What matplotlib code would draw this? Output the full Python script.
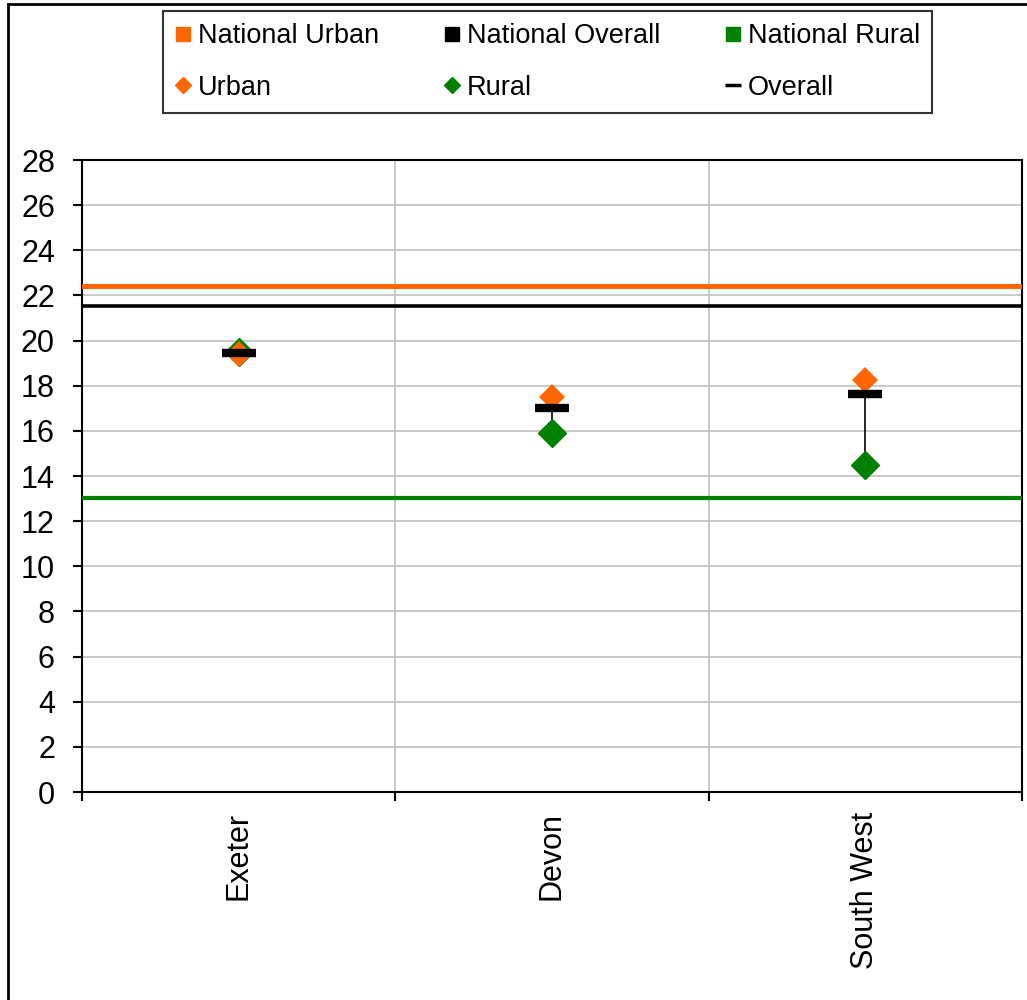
import matplotlib.pyplot as plt
from matplotlib.lines import Line2D
from matplotlib.patches import Rectangle

plt.rcParams['font.family'] = ['Liberation Sans', 'DejaVu Sans']

areas = ["Exeter", "Devon", "South West"]
urban = [19.4, 17.5, 18.25]
rural = [19.5, 15.9, 14.5]
overall = [19.47, 17.03, 17.63]

national_urban = 22.43
national_overall = 21.55
national_rural = 13.04

ORANGE = "#FF6600"
GREEN = "#008000"

fig = plt.figure(figsize=(10.27, 10.0), dpi=100)
ax = fig.add_axes([82 / 1027, 208 / 1000, 940 / 1027, 632 / 1000])

x = list(range(len(areas)))

# national reference lines
ax.axhline(national_urban, color=ORANGE, lw=3.6, zorder=3)
ax.axhline(national_overall, color="black", lw=2.6, zorder=3)
ax.axhline(national_rural, color=GREEN, lw=3.0, zorder=3)

# overall -> rural connector
ax.vlines(x, rural, overall, color="black", lw=1.2, zorder=4)

ax.plot(x, rural, ls="none", marker="D", ms=14, color=GREEN, mec=GREEN, zorder=5)
ax.plot(x, urban, ls="none", marker="D", ms=13.5, color=ORANGE, mec=ORANGE, mew=0, zorder=6)
ax.plot(x, overall, ls="none", marker="_", ms=24, mew=6, color="black", zorder=7)

ax.set_xlim(-0.5, len(areas) - 0.5)
ax.set_ylim(0, 28)
ax.set_yticks(range(0, 29, 2))
ax.grid(axis="y", color="#c0c0c0", lw=1.2, zorder=0)

ax.set_xticks([i - 0.5 for i in range(len(areas) + 1)])
ax.set_xticklabels([])
ax.set_xticks(x, minor=True)
ax.set_xticklabels(areas, minor=True, rotation=90, va="top", ha="center", fontsize=22)
ax.tick_params(axis="x", which="minor", length=0, pad=14.5)
ax.tick_params(axis="x", which="major", length=6.5, width=1.5, direction="out")
for gx in [0.5, 1.5]:
    ax.axvline(gx, color="#c0c0c0", lw=1.2, zorder=0)
ax.tick_params(axis="y", length=6.5, width=1.5, direction="out", labelsize=22, pad=13)
for s in ax.spines.values():
    s.set_linewidth(1.5)
    s.set_color("black")

handles = [
    Line2D([], [], ls="none", marker="s", ms=10, color=ORANGE),
    Line2D([], [], ls="none", marker="D", ms=8.5, color=ORANGE),
    Line2D([], [], ls="none", marker="s", ms=10, color="black"),
    Line2D([], [], ls="none", marker="D", ms=8.5, color=GREEN),
    Line2D([], [], ls="none", marker="s", ms=10, color=GREEN),
    Line2D([], [], ls="none", marker="_", ms=11, mew=2.5, color="black"),
]
labels = ["National Urban", "Urban", "National Overall", "Rural", "National Rural", "Overall"]
leg = fig.legend(handles, labels, ncol=3, mode="expand",
                 bbox_to_anchor=(163 / 1027, 887 / 1000, 769 / 1027, 100 / 1000),
                 loc="lower left", borderaxespad=0, fontsize=19.5, frameon=True,
                 fancybox=False, edgecolor="black", handlelength=0.6,
                 handletextpad=0.25, labelspacing=0.95, borderpad=0.45)
leg.get_frame().set_linewidth(1.5)

fig.patches.append(Rectangle((8 / 1027, -0.1), 2, 1.096, transform=fig.transFigure,
                             fill=False, edgecolor="black", lw=2))

fig.savefig("out.png", dpi=100)
